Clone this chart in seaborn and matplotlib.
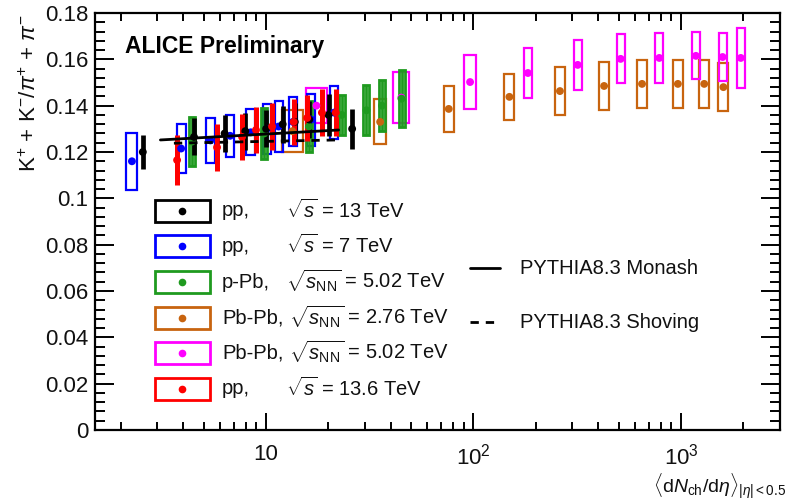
import numpy as np
import pandas as pd
import matplotlib
matplotlib.use("Agg")
import matplotlib.pyplot as plt
import seaborn as sns
from matplotlib.patches import Rectangle
from matplotlib.lines import Line2D
from matplotlib.ticker import MultipleLocator, LogLocator, FixedLocator, FuncFormatter, NullFormatter

# ---------------- data ----------------
pp13_x = [2.55, 4.50, 6.32, 7.95, 10.02, 12.04, 13.77, 16.17, 20.02, 26.02]
pp13_y = [0.120, 0.1265, 0.128, 0.129, 0.130, 0.132, 0.133, 0.134, 0.136, 0.130]
pp13_e = [0.0075, 0.008, 0.008, 0.008, 0.008, 0.008, 0.008, 0.008, 0.009, 0.0086]

pp7_x = [2.26, 3.9, 5.4, 6.72, 8.45, 10.1, 11.5, 13.5, 16.5, 21.3]
pp7_y = [0.116, 0.1215, 0.125, 0.127, 0.1285, 0.130, 0.131, 0.133, 0.134, 0.137]
pp7_e = [0.0122, 0.0105, 0.0097, 0.009, 0.010, 0.0108, 0.0108, 0.0106, 0.0112, 0.0114]

ppb_x = [4.4, 9.8, 16.1, 23.2, 30.5, 36.2, 45.0]
ppb_y = [0.1245, 0.128, 0.131, 0.136, 0.138, 0.140, 0.143]
ppb_e = [0.0105, 0.011, 0.011, 0.0088, 0.0108, 0.011, 0.0122]

pbpb276_x = [13.4, 35.5, 76, 149, 261, 426, 649, 966, 1294, 1601]
pbpb276_y = [0.129, 0.133, 0.1386, 0.1438, 0.1463, 0.1485, 0.1494, 0.1494, 0.1494, 0.148]
pbpb276_e = [0.009, 0.0097, 0.0099, 0.0099, 0.0103, 0.0103, 0.0102, 0.0102, 0.0104, 0.0104]

pbpb502_x = [17.5, 44.9, 96.3, 183, 318, 512, 786, 1180, 1587, 1942]
pbpb502_y = [0.140, 0.1435, 0.1502, 0.1541, 0.1576, 0.1602, 0.1606, 0.1615, 0.161, 0.1606]
pbpb502_e = [0.0076, 0.011, 0.0115, 0.011, 0.0108, 0.0106, 0.0106, 0.0101, 0.0104, 0.013]

pp136_x = [3.73, 5.81, 7.67, 8.95, 10.7, 13.6, 15.8, 18.6, 21.7]
pp136_y = [0.1165, 0.122, 0.1265, 0.1295, 0.131, 0.133, 0.1347, 0.137, 0.137]
pp136_e = [0.0108, 0.0102, 0.010, 0.010, 0.010, 0.010, 0.010, 0.010, 0.010]

monash_x = [3.1, 22.4]
monash_y = [0.1252, 0.1295]
shoving_x = [3.6, 22.0]
shoving_y = [0.1238, 0.1252]

labels_sys = ["pp,", "pp,", "p-Pb,", "Pb-Pb,", "Pb-Pb,", "pp,"]
labels_en = [r"$\sqrt{s}$ = 13 TeV", r"$\sqrt{s}$ = 7 TeV",
             r"$\sqrt{s_{\rm NN}}$ = 5.02 TeV", r"$\sqrt{s_{\rm NN}}$ = 2.76 TeV",
             r"$\sqrt{s_{\rm NN}}$ = 5.02 TeV", r"$\sqrt{s}$ = 13.6 TeV"]
model_labels = ["PYTHIA8.3 Monash", "PYTHIA8.3 Shoving"]

# ---------------- style ----------------
C_BLACK = "#000000"
C_BLUE = "#0000ff"
C_GREEN = "#1f9a1f"
C_ORANGE = "#c8640f"
C_PINK = "#ff00ff"
C_RED = "#ff0000"

sns.set_theme(style="ticks")
plt.rcParams["font.family"] = ["Liberation Sans", "DejaVu Sans"]
plt.rcParams["mathtext.fontset"] = "custom"
plt.rcParams["mathtext.rm"] = "Liberation Sans"
plt.rcParams["mathtext.it"] = "Liberation Sans:italic"
plt.rcParams["mathtext.bf"] = "Liberation Sans:bold"

W, H = 788, 503
fig = plt.figure(figsize=(W / 100, H / 100), dpi=100)
AX_L, AX_R, AX_T, AX_B = 95, 780, 13, 430
ax = fig.add_axes([AX_L / W, 1 - AX_B / H, (AX_R - AX_L) / W, (AX_B - AX_T) / H])

XMIN, XMAX = 1.5, 3000
YMIN, YMAX = 0.0, 0.18
ax.set_xscale("log")
ax.set_xlim(XMIN, XMAX)
ax.set_ylim(YMIN, YMAX)
px_per_dec = (AX_R - AX_L) / (np.log10(XMAX) - np.log10(XMIN))


def boxes(xs, ys, es, wpx, color, lw=1.6, z=2):
    ws = wpx if isinstance(wpx, (list, tuple)) else [wpx] * len(xs)
    for x, y, e, w in zip(xs, ys, es, ws):
        h = w / 2 / px_per_dec
        x0, x1 = x * 10 ** (-h), x * 10 ** h
        ax.add_patch(Rectangle((x0, y - e), x1 - x0, 2 * e, fill=False,
                               ec=color, lw=lw, zorder=z))


# Pb-Pb 2.76
boxes(pbpb276_x, pbpb276_y, pbpb276_e, [21, 12, 10, 10, 10, 10, 10, 10, 10, 10], C_ORANGE, z=2)
# Pb-Pb 5.02
boxes(pbpb502_x, pbpb502_y, pbpb502_e, [21, 16, 12, 8, 8, 8, 8, 8, 8, 8], C_PINK, z=2.1)
# pp 7
boxes(pp7_x, pp7_y, pp7_e, [11, 9, 9, 8, 9, 8, 8, 8, 8, 8], C_BLUE, z=2.2)
# p-Pb
boxes(ppb_x, ppb_y, ppb_e, 6, C_GREEN, lw=2.0, z=2.3)
ax.errorbar(ppb_x, ppb_y, yerr=ppb_e, fmt="none", ecolor=C_GREEN, elinewidth=2.0, zorder=2.3)
# pp 13 (thick bars)
ax.errorbar(pp13_x, pp13_y, yerr=pp13_e, fmt="none", ecolor=C_BLACK, elinewidth=3.4, zorder=2.5)
# pp 13.6 (thick bars)
ax.errorbar(pp136_x, pp136_y, yerr=pp136_e, fmt="none", ecolor=C_RED, elinewidth=3.6, zorder=2.6)

# markers through seaborn
series = [("pbpb276", pbpb276_x, pbpb276_y, C_ORANGE),
          ("pbpb502", pbpb502_x, pbpb502_y, C_PINK),
          ("pp7", pp7_x, pp7_y, C_BLUE),
          ("ppb", ppb_x, ppb_y, C_GREEN),
          ("pp13", pp13_x, pp13_y, C_BLACK),
          ("pp136", pp136_x, pp136_y, C_RED)]
df = pd.concat([pd.DataFrame({"x": xs, "y": ys, "series": n}) for n, xs, ys, _ in series],
               ignore_index=True)
pal = {n: c for n, _, _, c in series}
sns.scatterplot(data=df, x="x", y="y", hue="series", palette=pal, s=32,
                edgecolor="none", legend=False, ax=ax, zorder=4)

# PYTHIA curves
dfm = pd.DataFrame({"x": monash_x + shoving_x, "y": monash_y + shoving_y,
                    "model": ["Monash"] * len(monash_x) + ["Shoving"] * len(shoving_x)})
sns.lineplot(data=dfm[dfm.model == "Monash"], x="x", y="y", color="black", lw=2.0,
             ax=ax, zorder=5, legend=False)
sns.lineplot(data=dfm[dfm.model == "Shoving"], x="x", y="y", color="black", lw=2.0,
             ls=(0, (3, 2.5)), ax=ax, zorder=5, legend=False)

# ---------------- axes ----------------
for s in ax.spines.values():
    s.set_linewidth(1.6)
    s.set_color("black")
ax.set_xlabel("")
ax.set_ylabel("")
ax.yaxis.set_major_locator(MultipleLocator(0.02))
ax.yaxis.set_minor_locator(MultipleLocator(0.004))
ax.yaxis.set_major_formatter(FuncFormatter(lambda v, p: "0" if abs(v) < 1e-9 else ("%g" % round(v, 3))))
ax.xaxis.set_major_locator(FixedLocator([10, 100, 1000]))
ax.xaxis.set_minor_locator(LogLocator(base=10, subs=np.arange(2, 10), numticks=20))
ax.xaxis.set_minor_formatter(NullFormatter())
ax.xaxis.set_major_formatter(FuncFormatter(
    lambda v, p: {10: "10", 100: r"10$^{2}$", 1000: r"10$^{3}$"}.get(int(round(v)), "")))
ax.tick_params(which="both", direction="in", top=True, right=True, width=1.4, color="black",
               labelsize=16, labelcolor="#111111")
ax.tick_params(axis="y", which="major", length=14, pad=5)
ax.tick_params(axis="y", which="minor", length=7)
ax.tick_params(axis="x", which="major", length=12, pad=10)
ax.tick_params(axis="x", which="minor", length=6)

# axis titles
fig.text(30 / W, 1 - 14 / H, r"K$^{+}$ + K$^{-}$/$\pi^{+}$ + $\pi^{-}$", rotation=90,
         ha="center", va="top", fontsize=16, color="#111111")
fig.text(786 / W, 1 - 501 / H, r"$\langle{\rm d}N_{\rm ch}/{\rm d}\eta\rangle_{|\eta|<0.5}$",
         ha="right", va="bottom", fontsize=14, color="#111111")

# ALICE label
fig.text(125 / W, 1 - 47 / H, "ALICE Preliminary", fontsize=16.5, fontweight="bold",
         ha="left", va="center", color="black")

# ---------------- legends ----------------
leg_cols = [C_BLACK, C_BLUE, C_GREEN, C_ORANGE, C_PINK, C_RED]
leg_y = [211, 246, 282, 318, 353, 389]
for col, yy, s1, s2 in zip(leg_cols, leg_y, labels_sys, labels_en):
    fig.patches.append(Rectangle((155 / W, 1 - (yy + 11) / H), 55 / W, 22 / H, fill=False,
                                 ec=col, lw=2.0, transform=fig.transFigure, figure=fig))
    fig.lines.append(Line2D([182 / W], [1 - yy / H], marker="o", ms=5.5, color=col, mec="none",
                            ls="none", transform=fig.transFigure, figure=fig))
    fig.text(222 / W, 1 - yy / H, s1, fontsize=14.5, ha="left", va="center", color="#111111")
    xoff = 286 if s1 != "Pb-Pb," else 289
    fig.text(xoff / W, 1 - (yy - 1) / H, s2, fontsize=14.5, ha="left", va="center", color="#111111")

for yy, ls, lab in zip([268, 322], ["-", (0, (3, 2.5))], model_labels):
    fig.lines.append(Line2D([470 / W, 500 / W], [1 - yy / H, 1 - yy / H], color="black", lw=2.0,
                            ls=ls, transform=fig.transFigure, figure=fig))
    fig.text(520 / W, 1 - yy / H, lab, fontsize=14.5, ha="left", va="center", color="#111111")

fig.savefig("out.png", dpi=100)
